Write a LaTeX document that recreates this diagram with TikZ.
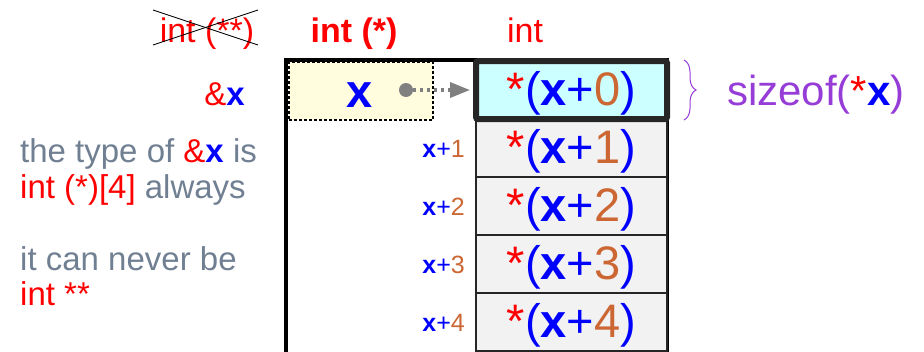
\documentclass[tikz,border=0pt]{standalone}
\usepackage{fontspec}
\setmainfont{Liberation Sans}
\usepackage{xcolor}
\usepackage{tikz}
\usetikzlibrary{positioning,arrows.meta,decorations.pathreplacing}

\definecolor{numorange}{RGB}{204,102,51}
\definecolor{notegray}{RGB}{112,128,146}
\definecolor{cellgray}{RGB}{242,242,242}
\definecolor{cellcyan}{RGB}{204,255,255}
\definecolor{varyellow}{RGB}{255,253,222}
\definecolor{ptrgray}{RGB}{128,128,128}
\definecolor{sizepurple}{RGB}{150,60,215}

\begin{document}
\begin{tikzpicture}[
  x=1pt, y=-1pt, >=Stealth,
  cell/.style={draw=black!85, line width=1.5pt, fill=cellgray,
               minimum width=191pt, minimum height=58pt, inner sep=0pt,
               text height=40pt, text depth=10pt,
               font=\fontsize{47}{50}\selectfont},
  idx/.style={anchor=base east, inner sep=0pt, font=\fontsize{25}{28}\selectfont},
  head/.style={anchor=base, inner sep=0pt, text=red, font=\fontsize{34}{38}\selectfont},
  note/.style={anchor=base west, inner sep=0pt, text=notegray,
               font=\fontsize{33}{36}\selectfont}
]
\useasboundingbox (0,0) rectangle (924,351);
\clip (0,0) rectangle (924,351);

% type headers
\node[head] (h1) at (207,42) {int (**)};
\node[head, font=\fontsize{34}{38}\selectfont\bfseries] (h2) at (354,42) {int (*)};
\node[head] (h3) at (525,42) {int};
\draw[line width=0.8pt] (153,10) -- (258,45);
\draw[line width=0.8pt] (153,45) -- (258,10);

% the variable x
\node[draw, dash pattern=on 3pt off 2pt, line width=1.5pt, fill=varyellow,
      minimum width=144pt, minimum height=58pt] (xbox) at (361,91) {};
\node[anchor=base, inner sep=0pt, text=blue, font=\fontsize{47}{50}\selectfont\bfseries]
  (xname) at (360,107) {x};
\node[anchor=base east, inner sep=0pt, font=\fontsize{33}{36}\selectfont] (addr) at (245,105)
  {{\color{red}\&}{\color{blue}\bfseries x}};

% outer frame
\draw[line width=4pt] (286,360) |- (667,60) -- (667,360);

% rows *(x+k)
\foreach \k in {1,...,4}{
  \node[cell] (c\k) at (571.5,{90+58*\k})
    {{\color{red}*}{\color{blue}(\textbf{x}+}{\color{numorange}\k}{\color{blue})}};
  \node[idx] (i\k) at (465,{99+58*\k})
    {{\color{blue}\bfseries x}{\color{blue}+}{\color{numorange}\k}};
}
\node[cell, fill=cellcyan, line width=6pt, rounded corners=2pt] (c0) at (571.5,90)
  {{\color{red}*}{\color{blue}(\textbf{x}+}{\color{numorange}0}{\color{blue})}};

% pointer
\node[circle, fill=ptrgray, inner sep=0pt, minimum size=14pt] (dot) at (406,90) {};
\draw[ptrgray, line width=3.5pt, dash pattern=on 3pt off 4pt,
      -{Triangle[length=20pt,width=15pt]}, shorten >=3pt] (dot) -- (c0.west);

% size brace
\coordinate (btop) at (684,60);
\coordinate (bbot) at (684,120);
\draw[sizepurple, line width=1pt, decorate, decoration={brace, amplitude=12pt}]
  (btop) -- (bbot);
\node[anchor=base west, inner sep=0pt, text=sizepurple, font=\fontsize{42}{46}\selectfont]
  (size) at (727,105) {sizeof({\color{red}*}{\color{blue}\bfseries x})};

% notes
\node[note] (n1) at (20,162) {the type of {\color{red}\&}{\color{blue}\bfseries x} is};
\node[note] (n2) at (20,198) {{\color{red}int (*)[4]} always};
\node[note] (n3) at (20,270) {it can never be};
\node[note] (n4) at (20,305) {{\color{red}int **}};
\end{tikzpicture}
\end{document}
